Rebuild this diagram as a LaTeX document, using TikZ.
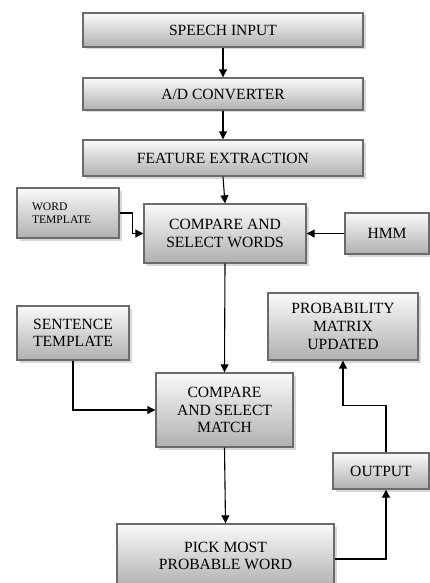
\documentclass[tikz,border=0pt]{standalone}
\usepackage{fontspec}
\setmainfont{Liberation Serif}
\usetikzlibrary{arrows.meta,shadows}

\begin{document}
\begin{tikzpicture}[x=1pt, y=-1pt,
  every node/.style = {shape=rectangle, draw=black!58, line width=1.4pt,
    top color=gray!4, bottom color=gray!62, align=center,
    font=\fontsize{15.6}{17.6}\selectfont, inner sep=2pt,
    drop shadow={shadow xshift=2.5pt, shadow yshift=-2.5pt, fill=black!30, opacity=.5}},
  small/.style = {font=\fontsize{11.6}{13}\selectfont, align=left,
    text width=72pt, inner xsep=15pt},
  flow/.style = {draw=black, line width=1.1pt, -{Triangle[length=8pt,width=8pt]}}]
  \useasboundingbox (0,0) rectangle (430,583);

  \node[minimum width=280pt, minimum height=34pt] (speech) at (223,30) {SPEECH INPUT};
  \node[minimum width=280pt, minimum height=32pt] (adc) at (223,94) {A/D CONVERTER};
  \node[minimum width=280pt, minimum height=36pt] (feat) at (223,158) {FEATURE EXTRACTION};
  \node[small, minimum height=50pt] (wordt) at (68,213) {WORD\\TEMPLATE};
  \node[minimum width=162pt, minimum height=59pt] (cmpw) at (225,233.5) {COMPARE AND\\SELECT WORDS};
  \node[minimum width=84pt, minimum height=41pt] (hmm) at (387,233.5) {HMM};
  \node[minimum width=150pt, minimum height=67pt] (prob) at (343,326.5) {PROBABILITY\\MATRIX\\UPDATED};
  \node[minimum width=112pt, minimum height=54pt] (sent) at (73,333) {SENTENCE\\TEMPLATE};
  \node[minimum width=137pt, minimum height=74pt] (cmpm) at (224.5,410) {COMPARE\\AND SELECT\\MATCH};
  \node[minimum width=96pt, minimum height=36pt] (output) at (381,471) {OUTPUT};
  \node[minimum width=217pt, minimum height=64pt] (pick) at (225.5,556) {PICK MOST\\PROBABLE WORD};

  % main chain
  \draw[flow] (speech) -- (adc);
  \draw[flow] (adc) -- (feat);
  \draw[flow] (feat.south) -- (cmpw.north);
  \draw[flow] (cmpw.south) -- (cmpm.north);
  \draw[flow] (cmpm.south) -- (pick.north);
  % side inputs
  \draw[flow] (wordt.east) -- ++(13,0) |- (cmpw.west);
  \draw[flow] (hmm.west) -- (cmpw.east);
  \draw[flow] (sent.south) |- (cmpm.west);
  % feedback to the matrix
  \draw[flow] ([yshift=-3pt]pick.east) -| ([xshift=5pt]output.south);
  \draw[flow] ([xshift=5pt]output.north) -- ++(0,-47) -| (prob.south);
\end{tikzpicture}
\end{document}
